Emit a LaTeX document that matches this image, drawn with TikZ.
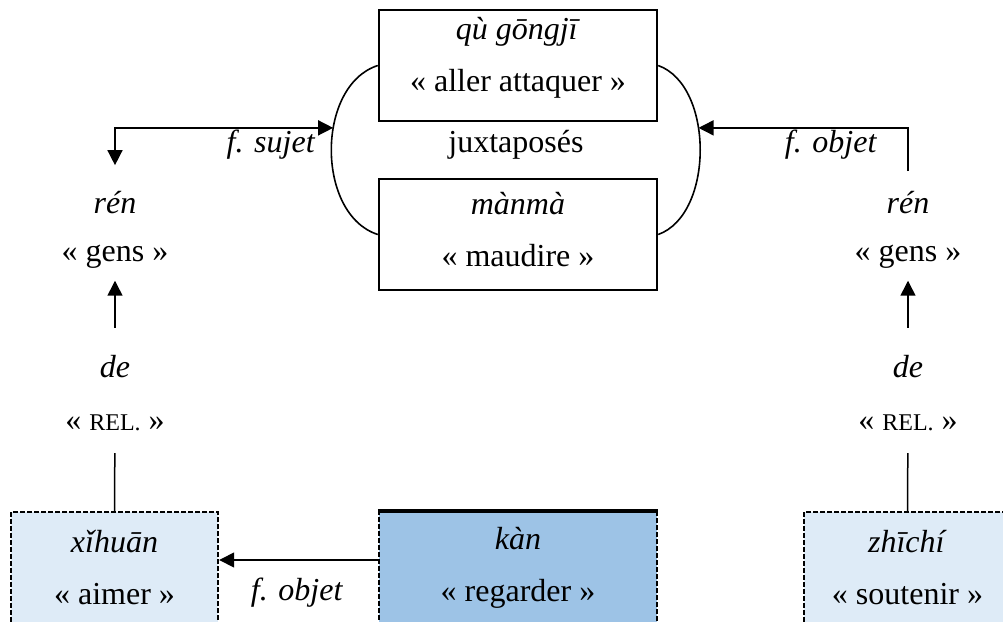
\documentclass[tikz,border=0pt]{standalone}
\usepackage{fontspec}
\setmainfont{Liberation Serif}
\usetikzlibrary{arrows.meta}

\definecolor{paleblue}{HTML}{DEEBF7}
\definecolor{midblue}{HTML}{9DC3E6}
% fake small caps for the gloss
\newcommand{\relgl}{{\fontsize{12}{12}\selectfont REL.}}

\begin{document}
\begin{tikzpicture}[x=0.5pt, y=-0.5pt, font=\fontsize{16}{26}\selectfont,
        wordbox/.style={draw, line width=1.2pt, minimum width=139pt, minimum height=55.5pt, align=center},
        dashbox/.style={draw, line width=1.2pt, dash pattern=on 2.5pt off 1pt, minimum height=55.5pt, align=center},
        arr/.style={-{Triangle[length=7.5pt, width=7.5pt]}, line width=0.75pt},
        both/.style={{Triangle[length=7.5pt, width=7.5pt]}-{Triangle[length=7.5pt, width=7.5pt]}, line width=0.75pt}]
    \useasboundingbox (0,0) rectangle (1003,622);

    % the two juxtaposed verbs
    \node[wordbox, text depth=11.5pt] (qu) at (518,65.5) {\textit{qù gōngjī}\\« aller attaquer »};
    \node[wordbox, text depth=5pt] (man) at (518,234.5) {\textit{mànmà}\\« maudire »};
    \node (jux) at (516,145) {juxtaposés};
    \draw[line width=0.8pt] (qu.west) .. controls +(-62,20) and +(-62,-20) .. (man.west) coordinate[pos=0.4] (bl);
    \draw[line width=0.8pt] (qu.east) .. controls +(56,20) and +(56,-20) .. (man.east) coordinate[pos=0.4] (br);

    % left column
    \node (renL) at (115,203) {\textit{rén}};
    \node (gensL) at (115,257) {« gens »};
    \node (deL) at (115,367) {\textit{de}};
    \node (relL) at (115,423) {« \relgl{} »};

    % right column
    \node (renR) at (908,203) {\textit{rén}};
    \node (gensR) at (908,257) {« gens »};
    \node (deR) at (908,367) {\textit{de}};
    \node (relR) at (908,423) {« \relgl{} »};

    % bottom row
    \node[dashbox, fill=paleblue, minimum width=103.5pt] (xi) at (114.5,567.5) {\textit{xǐhuān}\\« aimer »};
    \node[dashbox, fill=midblue, minimum width=139pt] (kan) at (518,567.5) {\textit{kàn}\\« regarder »};
    \node[dashbox, fill=paleblue, minimum width=103.5pt] (zhi) at (907.5,567.5) {\textit{zhīchí}\\« soutenir »};
    \draw[line width=1.7pt] (kan.north west) -- (kan.north east);

    % labels
    \node (fsuj) at (271,145) {\textit{f. sujet}};
    \node (fobjR) at (831,145) {\textit{f. objet}};
    \node (fobjB) at (297,593) {\textit{f. objet}};

    % connectors
    \draw[both, shorten <=9.75pt] (renL.north) |- (bl);
    \draw[arr, shorten <=6.75pt] (renR.north) |- (br);
    \draw[arr, shorten <=10.5pt, shorten >=2.5pt] (deL) -- (gensL);
    \draw[arr, shorten <=10.5pt, shorten >=2.5pt] (deR) -- (gensR);
    \draw[line width=0.75pt, shorten <=7.5pt] (relL) -- (xi.north);
    \draw[line width=0.75pt, shorten <=7.5pt] (relR) -- (zhi.north);
    \draw[arr] ([yshift=3.75pt]kan.west) -- ([yshift=3.75pt]xi.east);
\end{tikzpicture}
\end{document}
